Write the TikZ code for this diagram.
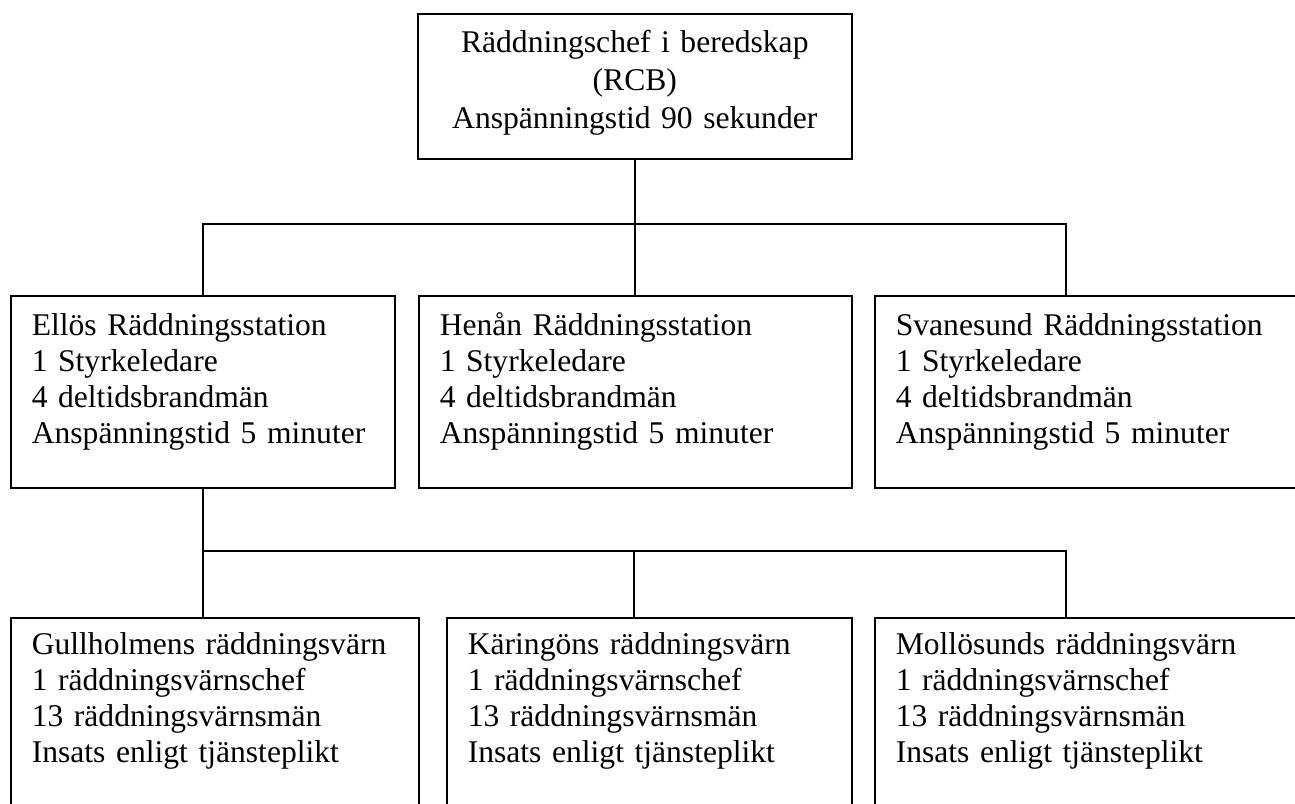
\documentclass[tikz,border=0pt]{standalone}
\usepackage{fontspec}
\setmainfont{Liberation Serif}
\usetikzlibrary{calc}

\tikzset{
    unitbox/.style={draw, line width=1.6pt, anchor=north west, inner xsep=21pt, inner ysep=0pt,
        align=left, font=\fontsize{31.6}{36}\selectfont},
    chiefbox/.style={unitbox, align=center, font=\fontsize{31.6}{38}\selectfont,
        text width=392pt, text height=39pt, text depth=106pt},
    stationbox/.style={unitbox, text height=40pt, text depth=152pt},
    guardbox/.style={unitbox, text height=37pt, text depth=260pt},
    link/.style={line width=1.6pt}
}

\begin{document}
\begin{tikzpicture}[x=1pt, y=-1pt]
    \useasboundingbox (0,0) rectangle (1295,803);
    \clip (0,0) rectangle (1295,803);

    % Chief on duty
    \node[chiefbox] (rcb) at (417,13) {Räddningschef i beredskap\\(RCB)\\Anspänningstid 90 sekunder};

    % Fire stations
    \node[stationbox, text width=342pt] (ellos) at (10,295) {Ellös Räddningsstation\\1 Styrkeledare\\4 deltidsbrandmän\\Anspänningstid 5 minuter};
    \node[stationbox, text width=391pt] (henan) at (418,295) {Henån Räddningsstation\\1 Styrkeledare\\4 deltidsbrandmän\\Anspänningstid 5 minuter};
    \node[stationbox, text width=398pt] (svanesund) at (874,295) {Svanesund Räddningsstation\\1 Styrkeledare\\4 deltidsbrandmän\\Anspänningstid 5 minuter};

    % Rescue guards
    \node[guardbox, text width=366pt] (gull) at (10,617) {Gullholmens räddningsvärn\\1 räddningsvärnschef\\13 räddningsvärnsmän\\Insats enligt tjänsteplikt};
    \node[guardbox, text width=363pt] (kar) at (446,617) {Käringöns räddningsvärn\\1 räddningsvärnschef\\13 räddningsvärnsmän\\Insats enligt tjänsteplikt};
    \node[guardbox, text width=398pt] (mollo) at (874,617) {Mollösunds räddningsvärn\\1 räddningsvärnschef\\13 räddningsvärnsmän\\Insats enligt tjänsteplikt};

    % Connectors
    \coordinate (bus1) at (634,224);
    \coordinate (bus2) at (634,551);
    \draw[link] (rcb.south) -- (rcb.south |- henan.north);
    \draw[link] (ellos.north) |- (bus1) -| ($(svanesund.north west)+(192,0)$);
    \draw[link] (ellos.south) -- (ellos.south |- gull.north);
    \draw[link] (ellos.south |- bus2) -| ($(mollo.north west)+(192,0)$);
    \draw[link] (bus2) -- (bus2 |- kar.north);

\end{tikzpicture}
\end{document}
